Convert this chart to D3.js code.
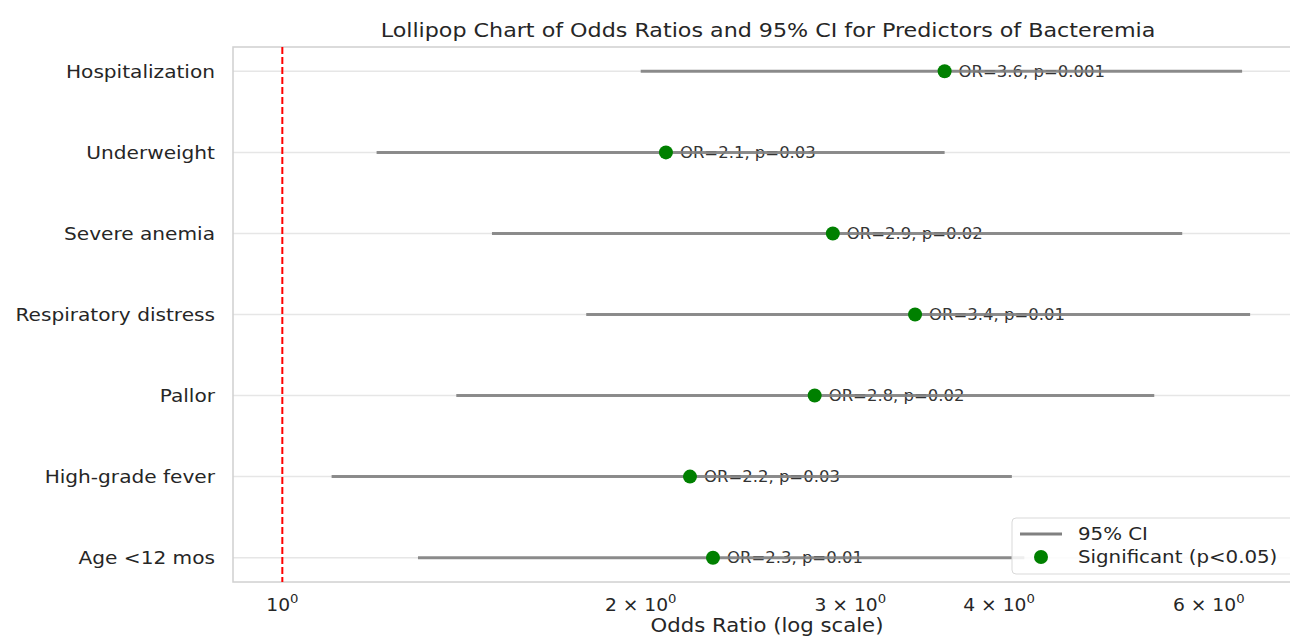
<!DOCTYPE html>
<html>
<head>
<meta charset="utf-8">
<script src="https://cdn.jsdelivr.net/npm/d3@7"></script>
<style>
  body { margin: 0; background: #fff; }
  svg { display: block; font-family: "DejaVu Sans", sans-serif; }
</style>
</head>
<body>
<svg id="chart" width="1290" height="637"></svg>
<script>
// ---- data ----
const categories = ["Age <12 mos", "High-grade fever", "Pallor", "Respiratory distress", "Severe anemia", "Underweight", "Hospitalization"];
const oddsRatios = [2.3, 2.2, 2.8, 3.4, 2.9, 2.1, 3.6];
const ciLower = [1.3, 1.1, 1.4, 1.8, 1.5, 1.2, 2.0];
const ciUpper = [4.2, 4.1, 5.4, 6.5, 5.7, 3.6, 6.4];
const pValues = ["0.01", "0.03", "0.02", "0.01", "0.02", "0.03", "0.001"];
const xTickValues = [1, 2, 3, 4, 6];
const xTickMantissa = ["", "2", "3", "4", "6"];

const svg = d3.select("#chart");
const m = { left: 233, right: 1303, top: 47, bottom: 582 };
const SX = 1.1; // horizontal stretch of text in reference

const x = d3.scaleLog().domain([0.909, 7.2]).range([m.left, m.right]);
const y = d3.scaleLinear().domain([-0.3, categories.length - 1 + 0.3]).range([m.bottom, m.top]);

function stretched(sel, px, py) {
  return sel.attr("transform", `translate(${px},${py}) scale(${SX},1)`);
}

svg.append("defs").append("clipPath").attr("id", "clip")
  .append("rect").attr("x", m.left).attr("y", m.top).attr("width", m.right - m.left).attr("height", m.bottom - m.top);

// horizontal grid
svg.append("g").selectAll("line").data(categories).join("line")
  .attr("x1", m.left).attr("x2", m.right)
  .attr("y1", (d, i) => y(i)).attr("y2", (d, i) => y(i))
  .attr("stroke", "#e6e6e6").attr("stroke-width", 1.5);

// frame
svg.append("rect").attr("x", m.left).attr("y", m.top)
  .attr("width", m.right - m.left).attr("height", m.bottom - m.top)
  .attr("fill", "none").attr("stroke", "#d0d0d0").attr("stroke-width", 1.5);

const plot = svg.append("g").attr("clip-path", "url(#clip)");

// reference line at OR = 1
plot.append("line")
  .attr("x1", x(1)).attr("x2", x(1)).attr("y1", m.top).attr("y2", m.bottom)
  .attr("stroke", "#ff0000").attr("stroke-width", 2).attr("stroke-dasharray", "7,3");

// annotations
plot.append("g").selectAll("text").data(categories).join("text")
  .each(function(d, i) { stretched(d3.select(this), x(oddsRatios[i]) + 14, y(i)); })
  .attr("dy", "0.35em")
  .attr("font-size", 15)
  .attr("fill", "#333")
  .text((d, i) => `OR=${oddsRatios[i].toFixed(1)}, p=${pValues[i]}`);

// CI lines
plot.append("g").selectAll("line").data(categories).join("line")
  .attr("x1", (d, i) => x(ciLower[i])).attr("x2", (d, i) => x(ciUpper[i]))
  .attr("y1", (d, i) => y(i)).attr("y2", (d, i) => y(i))
  .attr("stroke", "#808080").attr("stroke-width", 3).attr("stroke-opacity", 0.9);

// points
plot.append("g").selectAll("circle").data(categories).join("circle")
  .attr("cx", (d, i) => x(oddsRatios[i])).attr("cy", (d, i) => y(i))
  .attr("r", 7).attr("fill", "#008000");

// y axis labels
svg.append("g").selectAll("text").data(categories).join("text")
  .each(function(d, i) { stretched(d3.select(this), m.left - 18, y(i)); })
  .attr("dy", "0.35em")
  .attr("text-anchor", "end").attr("font-size", 18.3).attr("fill", "#262626")
  .text(d => d);

// x tick labels
const xt = svg.append("g").selectAll("text").data(xTickValues).join("text")
  .each(function(d) { stretched(d3.select(this), x(d), 611); })
  .attr("text-anchor", "middle").attr("font-size", 17).attr("fill", "#262626");
xt.each(function(d, i) {
  const t = d3.select(this);
  if (xTickMantissa[i]) t.append("tspan").text(xTickMantissa[i] + " \u00d7 ");
  t.append("tspan").text("10");
  t.append("tspan").attr("font-size", 12).attr("dy", -8).text("0");
});

// axis title
stretched(svg.append("text"), (m.left + m.right) / 2 - 1, 632)
  .attr("text-anchor", "middle").attr("font-size", 19.3).attr("fill", "#262626")
  .text("Odds Ratio (log scale)");

// chart title
stretched(svg.append("text"), (m.left + m.right) / 2, 37)
  .attr("text-anchor", "middle").attr("font-size", 20.2).attr("fill", "#262626")
  .text("Lollipop Chart of Odds Ratios and 95% CI for Predictors of Bacteremia");

// legend
const lg = svg.append("g").attr("transform", "translate(1012,518)");
lg.append("rect").attr("x", 0).attr("y", 0).attr("width", 300).attr("height", 56).attr("rx", 4)
  .attr("fill", "#fff").attr("fill-opacity", 0.85).attr("stroke", "#d9d9d9");
lg.append("line").attr("x1", 8).attr("x2", 50).attr("y1", 16).attr("y2", 16)
  .attr("stroke", "#808080").attr("stroke-width", 3);
stretched(lg.append("text"), 66, 16).attr("dy", "0.35em").attr("font-size", 18)
  .attr("fill", "#262626").text("95% CI");
lg.append("circle").attr("cx", 29).attr("cy", 39).attr("r", 7).attr("fill", "#008000");
stretched(lg.append("text"), 66, 39).attr("dy", "0.35em").attr("font-size", 18)
  .attr("fill", "#262626").text("Significant (p<0.05)");
</script>
</body>
</html>
